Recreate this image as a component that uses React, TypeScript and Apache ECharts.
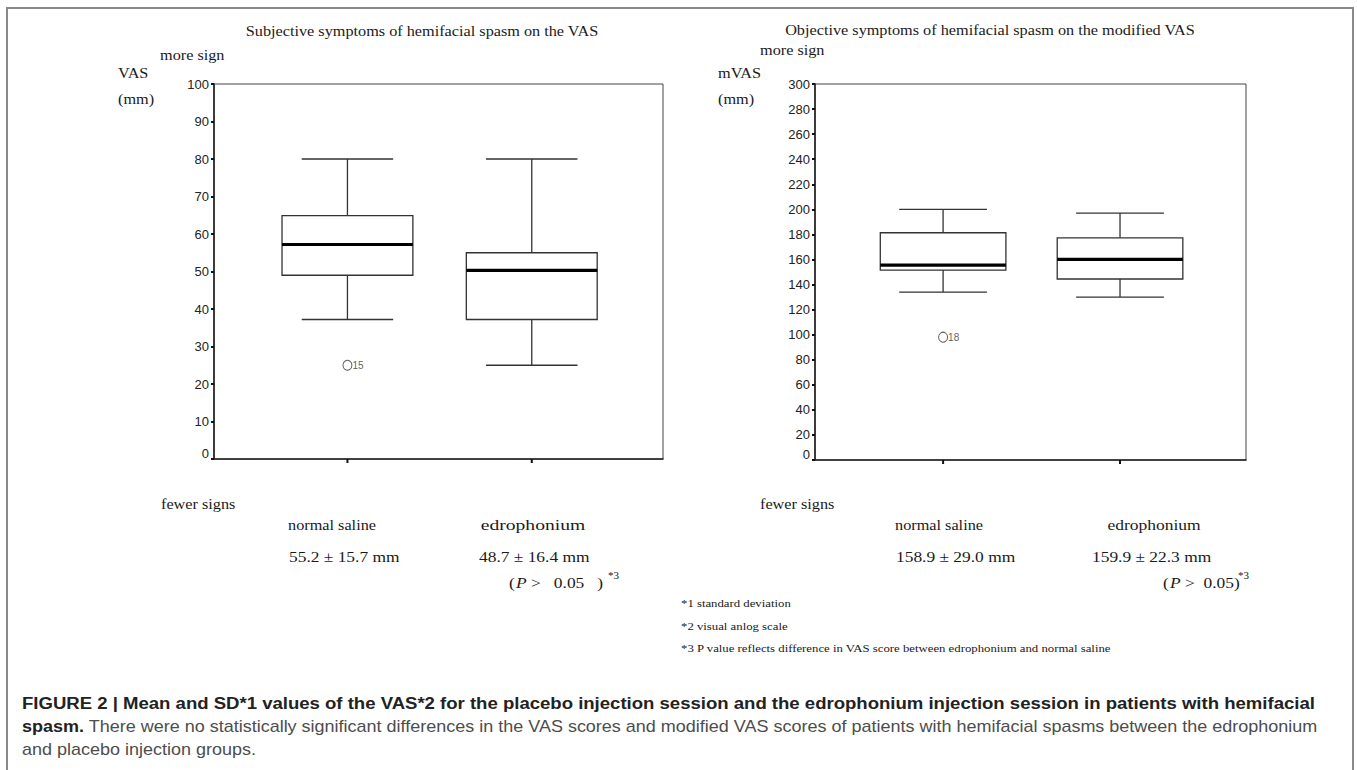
import React, { useEffect, useRef } from "react";
import * as echarts from "echarts";

// ---------- data ----------
const groupNames = ["normal saline", "edrophonium"];
const groupX = [1, 2];

// [lower whisker, Q1, median, Q3, upper whisker]
const vasBox = [
  [37.2, 49.0, 57.2, 64.9, 80],
  [25, 37.2, 50.3, 55.0, 80],
];
const vasOutlierGroup = [1];
const vasOutlierValue = [25];
const vasOutlierCase = ["15"];
const vasStats = ["55.2 ± 15.7 mm", "48.7 ± 16.4 mm"];

const mvasBox = [
  [134, 151.5, 155.5, 181.3, 200],
  [130, 144.4, 160, 177.3, 197],
];
const mvasOutlierGroup = [1];
const mvasOutlierValue = [98];
const mvasOutlierCase = ["18"];
const mvasStats = ["158.9 ± 29.0 mm", "159.9 ± 22.3 mm"];

const vasScale = { min: 0, max: 100, interval: 10 };
const mvasScale = { min: 0, max: 300, interval: 20 };

const titles = [
  "Subjective symptoms of hemifacial spasm on the VAS",
  "Objective symptoms of hemifacial spasm on the modified VAS",
];
const yNames = ["VAS", "mVAS"];
const footnotes = [
  "*1 standard deviation",
  "*2 visual anlog scale",
  "*3 P value reflects difference in VAS score between edrophonium and normal saline",
];
const captionLine1 =
  "FIGURE 2 | Mean and SD*1 values of the VAS*2 for the placebo injection session and the edrophonium injection session in patients with hemifacial";
const captionLine2Bold = "spasm.";
const captionLine2 =
  " There were no statistically significant differences in the VAS scores and modified VAS scores of patients with hemifacial spasms between the edrophonium";
const captionLine3 = "and placebo injection groups.";

// ---------- styling ----------
const X_MIN = 0.276;
const X_MAX = 2.712;
const BOX_HALF = 0.355;
const CAP_HALF = 0.248;
const SERIF = "'Liberation Serif', 'Times New Roman', serif";
const SANS = "'Liberation Sans', Arial, sans-serif";
const SX = 1.16;

function renderBox(params: any, api: any) {
  const x = api.value(0);
  const lo = api.value(1);
  const q1 = api.value(2);
  const med = api.value(3);
  const q3 = api.value(4);
  const hi = api.value(5);
  const c = (vx: number, vy: number) => api.coord([vx, vy]);
  const [cx, yHi] = c(x, hi);
  const yQ3 = c(x, q3)[1];
  const yMed = c(x, med)[1];
  const yQ1 = c(x, q1)[1];
  const yLo = c(x, lo)[1];
  const y0 = c(x, 0)[1];
  const bl = c(x - BOX_HALF, 0)[0];
  const br = c(x + BOX_HALF, 0)[0];
  const kl = c(x - CAP_HALF, 0)[0];
  const kr = c(x + CAP_HALF, 0)[0];
  const ls = { stroke: "#333", lineWidth: 1.3 };
  return {
    type: "group",
    children: [
      { type: "line", shape: { x1: cx, y1: yHi, x2: cx, y2: yQ3 }, style: ls },
      { type: "line", shape: { x1: cx, y1: yQ1, x2: cx, y2: yLo }, style: ls },
      { type: "line", shape: { x1: kl, y1: yHi, x2: kr, y2: yHi }, style: ls },
      { type: "line", shape: { x1: kl, y1: yLo, x2: kr, y2: yLo }, style: ls },
      {
        type: "rect",
        shape: { x: bl, y: yQ3, width: br - bl, height: yQ1 - yQ3 },
        style: { fill: "#fff", stroke: "#333", lineWidth: 1.3 },
      },
      {
        type: "line",
        shape: { x1: bl, y1: yMed, x2: br, y2: yMed },
        style: { stroke: "#000", lineWidth: 3.2 },
      },
      {
        type: "line",
        shape: { x1: cx, y1: y0, x2: cx, y2: y0 + 4 },
        style: { stroke: "#111", lineWidth: 2 },
      },
    ],
  };
}

function txt(
  text: string,
  x: number,
  y: number,
  size: number,
  align: string = "left",
  extra: any = {}
) {
  return {
    type: "text",
    x,
    y,
    scaleX: extra.scaleX ?? SX,
    silent: true,
    style: {
      text,
      fontFamily: extra.fontFamily ?? SERIF,
      fontSize: size,
      fontStyle: extra.fontStyle ?? "normal",
      fontWeight: extra.fontWeight ?? "normal",
      fill: extra.fill ?? "#1a1a1a",
      align,
      verticalAlign: "middle",
    },
  };
}

function buildOption() {
  const yAxisCommon = {
    type: "value",
    splitLine: { show: false },
    axisLine: { show: true, onZero: false, lineStyle: { color: "#222", width: 1.6 } },
    axisTick: { show: true, inside: false, length: 3, lineStyle: { color: "#111", width: 2 } },
    axisLabel: {
      margin: 5,
      fontFamily: SANS,
      fontSize: 13,
      color: "#222",
      formatter: (v: number) => (v === 0 ? "{z|0}" : String(v)),
      rich: {
        z: { fontFamily: SANS, fontSize: 13, color: "#222", padding: [0, 0, 12, 0] },
      },
    },
  };
  const xAxisCommon = {
    type: "value",
    min: X_MIN,
    max: X_MAX,
    splitLine: { show: false },
    axisLine: { show: true, onZero: false, lineStyle: { color: "#222", width: 1.6 } },
    axisTick: { show: false },
    axisLabel: { show: false },
  };

  const boxData = (box: number[][]) => box.map((b, i) => [groupX[i], ...b]);
  const outData = (g: number[], v: number[]) => g.map((gx, i) => [gx, v[i]]);

  const outlierSeries = (idx: number, g: number[], v: number[], cases: string[]) => ({
    type: "scatter",
    xAxisIndex: idx,
    yAxisIndex: idx,
    data: outData(g, v),
    symbol: "circle",
    symbolSize: [9, 10],
    itemStyle: { color: "#fff", borderColor: "#333", borderWidth: 1 },
    label: {
      show: true,
      position: "right",
      distance: 0,
      fontFamily: SANS,
      fontSize: 10,
      color: "#333",
      formatter: (p: any) => cases[p.dataIndex],
    },
    z: 5,
  });

  const graphics: any[] = [
    {
      type: "rect",
      silent: true,
      shape: { x: 7, y: 8, width: 1346, height: 800 },
      style: { fill: "none", stroke: "#8a8a8a", lineWidth: 2 },
    },
    // left panel
    txt(titles[0], 422, 31, 14, "center"),
    txt("more sign", 160, 55, 14),
    txt(yNames[0], 118, 73, 14),
    txt("(mm)", 118, 99, 14),
    txt("fewer signs", 161, 504, 14),
    txt(groupNames[0], 332, 525, 14, "center"),
    txt(groupNames[1], 533, 525, 14, "center", { scaleX: 1.4 }),
    txt(vasStats[0], 289, 557, 15),
    txt(vasStats[1], 479, 557, 15),
    txt("(", 509, 583, 15),
    txt("P", 516, 583, 15, "left", { fontStyle: "italic" }),
    txt(">   0.05   )", 531, 583, 15),
    txt("*3", 608, 576, 10, "left", { scaleX: 1.1 }),
    // right panel
    txt(titles[1], 990, 30, 14, "center"),
    txt("more sign", 760, 50, 14),
    txt(yNames[1], 718, 73, 14),
    txt("(mm)", 718, 99, 14),
    txt("fewer signs", 760, 504, 14),
    txt(groupNames[0], 939, 525, 14, "center"),
    txt(groupNames[1], 1154, 525, 14, "center", { scaleX: 1.25 }),
    txt(mvasStats[0], 896, 557, 15),
    txt(mvasStats[1], 1092, 557, 15),
    txt("(", 1163, 583, 15),
    txt("P", 1170, 583, 15, "left", { fontStyle: "italic" }),
    txt(">  0.05)", 1185, 583, 15),
    txt("*3", 1238, 576, 10, "left", { scaleX: 1.1 }),
    txt(footnotes[0], 681, 603, 11),
    txt(footnotes[1], 681, 626, 11),
    txt(footnotes[2], 681, 648, 11),
    // caption
    txt(captionLine1, 22, 703, 16, "left", {
      scaleX: 1.16,
      fontFamily: SANS,
      fontWeight: "bold",
      fill: "#222",
    }),
    {
      type: "text",
      x: 22,
      y: 727,
      scaleX: 1.125,
      silent: true,
      style: {
        text: `{b|${captionLine2Bold}}{r|${captionLine2}}`,
        verticalAlign: "middle",
        align: "left",
        rich: {
          b: { fontFamily: SANS, fontSize: 16, fontWeight: "bold", fill: "#222" },
          r: { fontFamily: SANS, fontSize: 16, fontWeight: "normal", fill: "#4d4d4d" },
        },
      },
    },
    txt(captionLine3, 22, 750, 16, "left", {
      scaleX: 1.125,
      fontFamily: SANS,
      fill: "#4d4d4d",
    }),
  ];

  return {
    animation: false,
    backgroundColor: "#fff",
    grid: [
      { left: 214, top: 84, width: 449, height: 375, show: true, borderColor: "#444", borderWidth: 1, backgroundColor: "transparent" },
      { left: 815, top: 84, width: 431, height: 376, show: true, borderColor: "#444", borderWidth: 1, backgroundColor: "transparent" },
    ],
    xAxis: [
      { ...xAxisCommon, gridIndex: 0 },
      { ...xAxisCommon, gridIndex: 1 },
    ],
    yAxis: [
      { ...yAxisCommon, gridIndex: 0, ...vasScale },
      { ...yAxisCommon, gridIndex: 1, ...mvasScale },
    ],
    series: [
      {
        type: "custom",
        xAxisIndex: 0,
        yAxisIndex: 0,
        clip: false,
        renderItem: renderBox,
        encode: { x: 0, y: [1, 2, 3, 4, 5] },
        data: boxData(vasBox),
      },
      {
        type: "custom",
        xAxisIndex: 1,
        yAxisIndex: 1,
        clip: false,
        renderItem: renderBox,
        encode: { x: 0, y: [1, 2, 3, 4, 5] },
        data: boxData(mvasBox),
      },
      outlierSeries(0, vasOutlierGroup, vasOutlierValue, vasOutlierCase),
      outlierSeries(1, mvasOutlierGroup, mvasOutlierValue, mvasOutlierCase),
    ],
    graphic: graphics,
  };
}

export default function App() {
  const ref = useRef<HTMLDivElement>(null);
  useEffect(() => {
    if (!ref.current) return;
    const chart = echarts.init(ref.current, null, { renderer: "svg" });
    chart.setOption(buildOption() as any);
    return () => chart.dispose();
  }, []);
  return (
    <div
      ref={ref}
      style={{ position: "absolute", left: 0, top: 0, width: 1357, height: 770, background: "#fff" }}
    />
  );
}
